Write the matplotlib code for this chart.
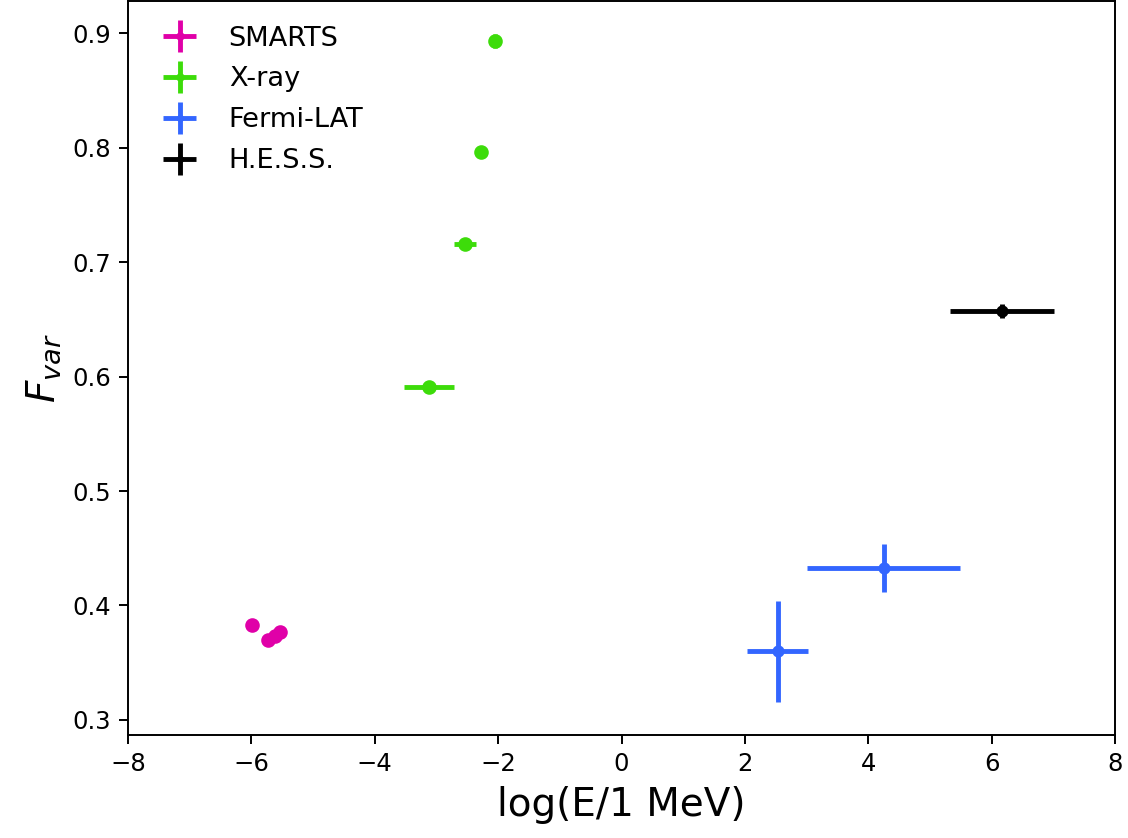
import matplotlib
matplotlib.use('Agg')
import matplotlib.pyplot as plt
from matplotlib.legend_handler import HandlerErrorbar
from matplotlib.container import ErrorbarContainer

# SMARTS (optical/NIR)
smarts_x = [-5.99, -5.73, -5.62, -5.54]
smarts_y = [0.383, 0.370, 0.373, 0.377]
smarts_xerr = [0.02, 0.02, 0.02, 0.02]
smarts_yerr = [0.002, 0.002, 0.002, 0.002]

# X-ray
xray_x = [-3.12, -2.54, -2.28, -2.05]
xray_y = [0.591, 0.716, 0.796, 0.893]
xray_xerr = [0.40, 0.18, 0.08, 0.05]
xray_yerr = [0.003, 0.004, 0.004, 0.006]

# Fermi-LAT
fermi_x = [2.53, 4.25]
fermi_y = [0.360, 0.433]
fermi_xerr = [0.50, 1.24]
fermi_yerr = [0.044, 0.021]

# H.E.S.S.
hess_x = [6.17]
hess_y = [0.657]
hess_xerr = [0.84]
hess_yerr = [0.006]

fig = plt.figure(figsize=(1128 / 175, 838 / 175), dpi=175)
ax = fig.add_axes([128 / 1128, 1 - 735 / 838, 987 / 1128, 734 / 838])

ax.errorbar(smarts_x, smarts_y, xerr=smarts_xerr, yerr=smarts_yerr, fmt='o', color='#e000a8',
            ms=5, elinewidth=2, capsize=0, label='SMARTS')
ax.errorbar(xray_x, xray_y, xerr=xray_xerr, yerr=xray_yerr, fmt='o', color='#3ddc0a',
            ms=5, elinewidth=2, capsize=0, label='X-ray')
ax.errorbar(fermi_x, fermi_y, xerr=fermi_xerr, yerr=fermi_yerr, fmt='o', color='#3366ff',
            ms=4, elinewidth=2, capsize=0, label='Fermi-LAT')
ax.errorbar(hess_x, hess_y, xerr=hess_xerr, yerr=hess_yerr, fmt='o', color='black',
            ms=4, elinewidth=2, capsize=0, label='H.E.S.S.')

ax.set_xlim(-8, 8)
ax.set_xlabel('log(E/1 MeV)', fontsize=16)
ax.set_ylabel(r'$F_{var}$', fontsize=16)
ax.legend(loc='upper left', frameon=False, fontsize=11.2, labelspacing=0.55, markerscale=0.5,
          handler_map={ErrorbarContainer: HandlerErrorbar(xerr_size=0.6)})

fig.savefig('out.png', dpi=175)
